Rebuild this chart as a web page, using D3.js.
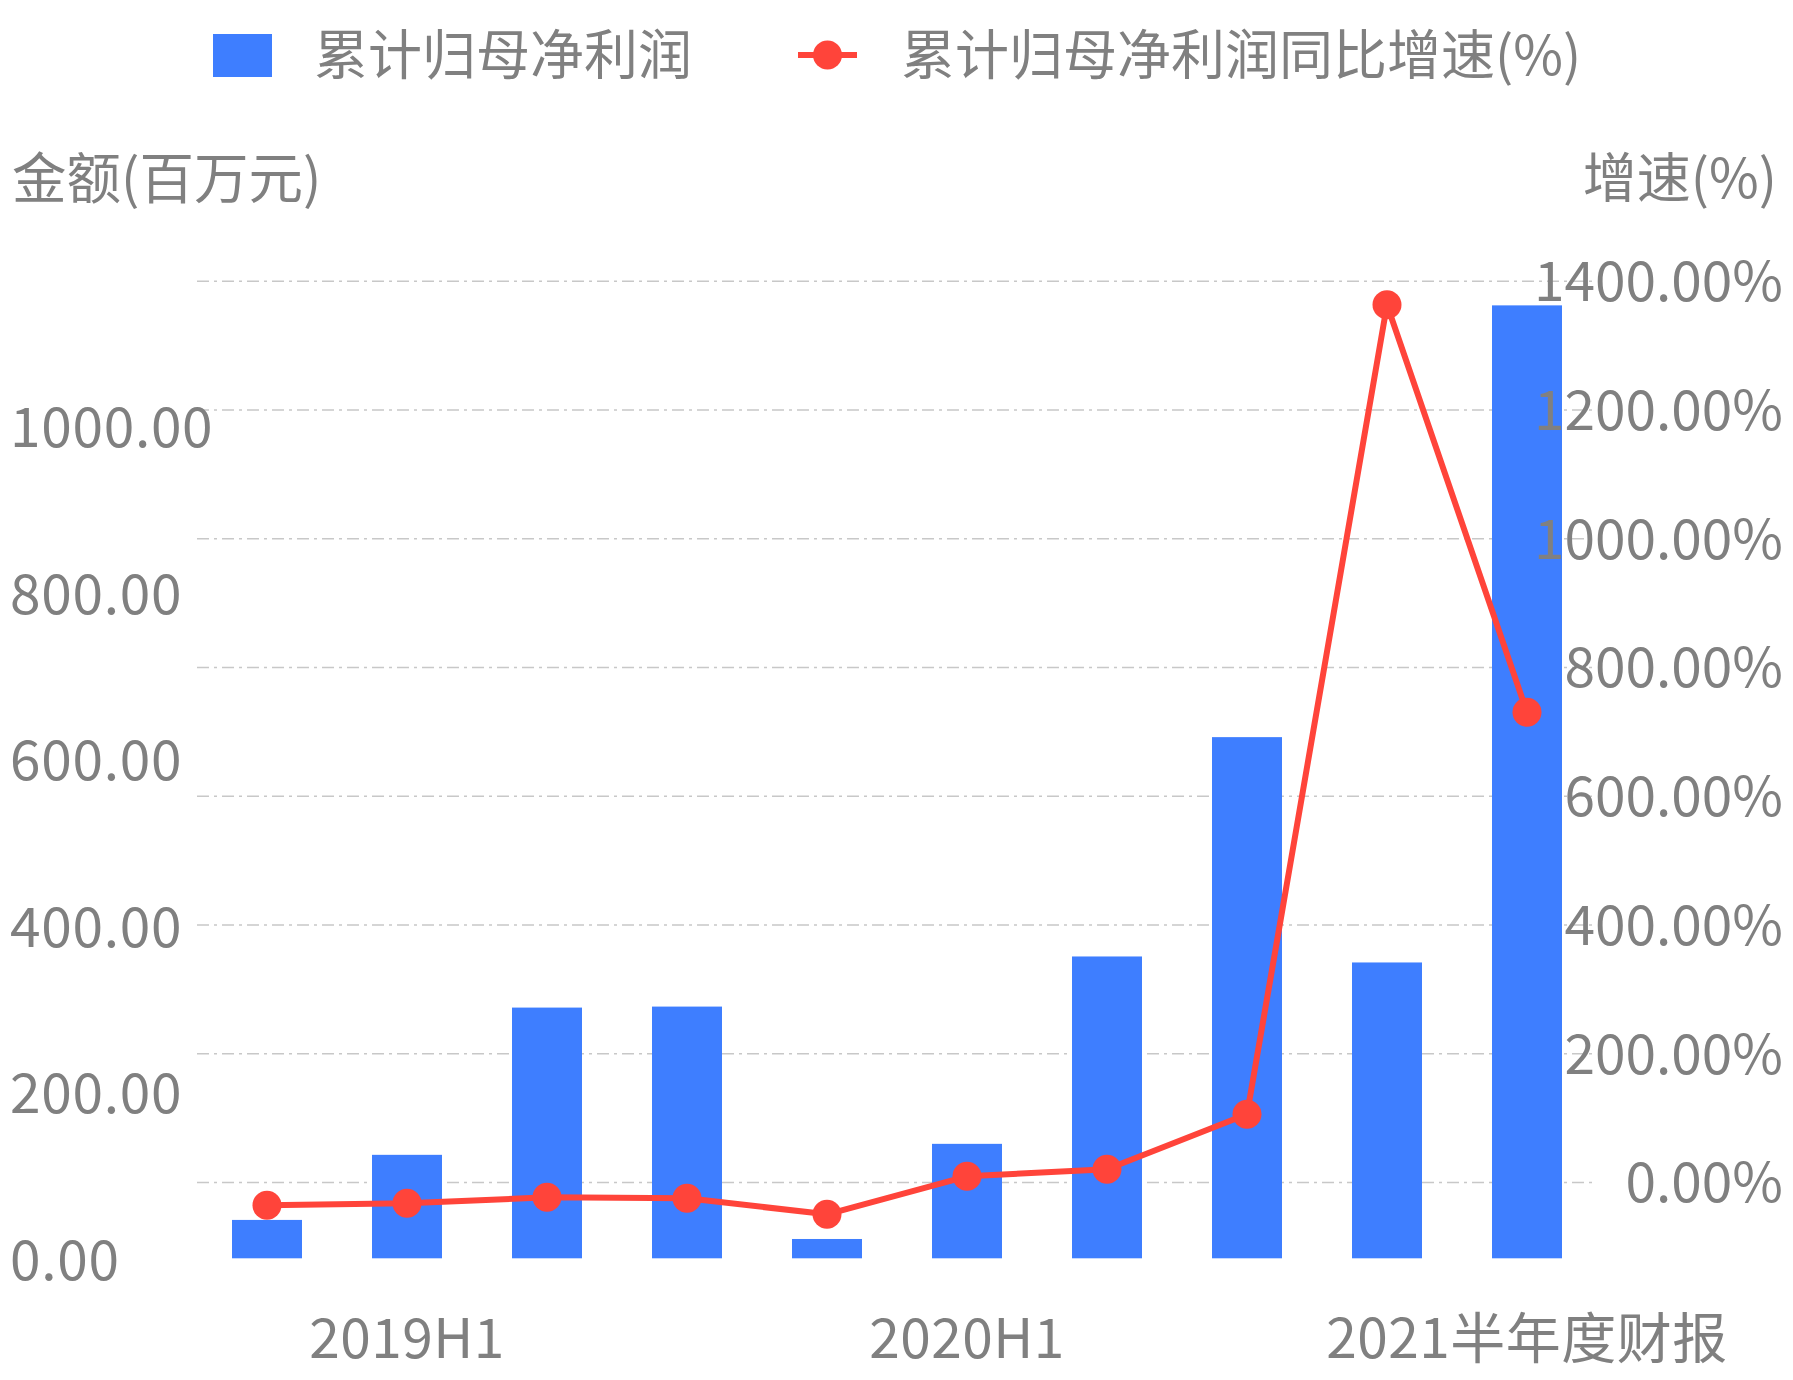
<!DOCTYPE html>
<html>
<head>
<meta charset="utf-8">
<script src="https://cdn.jsdelivr.net/npm/d3@7"></script>
<style>
  html, body { margin: 0; padding: 0; background: #ffffff; }
  svg { display: block; }
  text { font-family: "Noto Sans CJK SC", "Noto Sans", sans-serif; fill: #808080; }
</style>
</head>
<body>
<svg id="chart" width="1793" height="1380"></svg>
<script>
// ---- data ----
const categories = ["2019Q1", "2019H1", "2019Q3", "2019年报", "2020Q1", "2020H1", "2020Q3", "2020年报", "2021Q1", "2021半年度财报"];
const xTickLabels = ["2019H1", "2020H1", "2021半年度财报"];
const profit = [46.1, 124.3, 301.2, 302.4, 23.2, 137.5, 362.6, 626.1, 355.4, 1144.8];
const growth = [-36.2, -33.1, -23.8, -25.3, -50.2, 8.9, 19.7, 105.2, 1362.7, 729.6];
const leftTicks = [0, 200, 400, 600, 800, 1000];
const rightTicks = [0, 200, 400, 600, 800, 1000, 1200, 1400];
const seriesNames = ["累计归母净利润", "累计归母净利润同比增速(%)"];
const leftAxisName = "金额(百万元)";
const rightAxisName = "增速(%)";

// ---- style ----
const BLUE = "#3e7eff";
const RED = "#ff443a";
const GRAY = "#808080";
const GRID = "#c8c8c8";
const FS = 55;

const svg = d3.select("#chart");

const plotLeft = 197, plotRight = 1597;
const x = d3.scaleBand().domain(categories).range([plotLeft, plotRight]).paddingInner(0.5).paddingOuter(0.25);
const yL = d3.scaleLinear().domain([0, 1000]).range([1258.3, 425.9]);
const yR = d3.scaleLinear().domain([0, 1400]).range([1182, 280.7]);

// gridlines from right axis
const gridAxis = d3.axisRight(yR).tickValues(rightTicks).tickSize(plotRight - plotLeft).tickFormat("");
const gGrid = svg.append("g").attr("transform", `translate(${plotLeft},0)`).call(gridAxis);
gGrid.select(".domain").remove();
gGrid.selectAll("line").attr("stroke", GRID).attr("stroke-width", 1.6).attr("stroke-dasharray", "12,5,3,5");

// bars
svg.append("g").selectAll("rect").data(profit).join("rect")
  .attr("x", (d, i) => x(categories[i]))
  .attr("width", x.bandwidth())
  .attr("y", d => yL(d))
  .attr("height", d => yL(0) - yL(d))
  .attr("fill", BLUE);

// line
const cx = i => x(categories[i]) + x.bandwidth() / 2;
const line = d3.line().x((d, i) => cx(i)).y(d => yR(d));
svg.append("path").datum(growth).attr("d", line)
  .attr("fill", "none").attr("stroke", RED).attr("stroke-width", 6).attr("stroke-linejoin", "round");
svg.append("g").selectAll("circle").data(growth).join("circle")
  .attr("cx", (d, i) => cx(i)).attr("cy", d => yR(d)).attr("r", 14.5).attr("fill", RED);

// left axis labels
const leftAxis = d3.axisLeft(yL).tickValues(leftTicks).tickSize(0).tickFormat(d => d3.format(".2f")(d));
const gL = svg.append("g").attr("transform", "translate(10,0)").call(leftAxis);
gL.select(".domain").remove();
gL.selectAll("text").attr("text-anchor", "start").attr("x", 0).attr("dy", "0.38em")
  .attr("font-size", FS).attr("fill", GRAY).attr("letter-spacing", 0.7)
  .style("font-family", '"Noto Sans CJK SC", sans-serif');

// right axis labels
const rightAxis = d3.axisRight(yR).tickValues(rightTicks).tickSize(0).tickFormat(d => d3.format(".2f")(d) + "%");
const gR = svg.append("g").attr("transform", "translate(1783,0)").call(rightAxis);
gR.select(".domain").remove();
gR.selectAll("text").attr("text-anchor", "end").attr("x", 0).attr("dy", "0.36em")
  .attr("font-size", FS).attr("fill", GRAY).style("font-family", '"Noto Sans CJK SC", sans-serif');

// x axis labels
const tickCats = [categories[1], categories[5], categories[9]];
const xAxis = d3.axisBottom(x).tickValues(tickCats).tickSize(0).tickFormat((d, i) => xTickLabels[i]);
const gX = svg.append("g").attr("transform", "translate(0,1358)").call(xAxis);
gX.select(".domain").remove();
gX.selectAll("text").attr("y", 0).attr("dy", 0)
  .attr("font-size", FS).attr("fill", GRAY).attr("letter-spacing", 0.5)
  .style("font-family", '"Noto Sans CJK SC", sans-serif');

// axis names
svg.append("text").attr("x", 12).attr("y", 198).attr("font-size", 54.5).text(leftAxisName);
svg.append("text").attr("x", 1777).attr("y", 198).attr("text-anchor", "end").attr("font-size", 54).text(rightAxisName);

// legend
const lg = svg.append("g");
lg.append("rect").attr("x", 213).attr("y", 34).attr("width", 59).attr("height", 43).attr("fill", BLUE);
lg.append("text").attr("x", 314).attr("y", 75).attr("font-size", 54).text(seriesNames[0]);
lg.append("line").attr("x1", 798).attr("x2", 857).attr("y1", 55).attr("y2", 55).attr("stroke", RED).attr("stroke-width", 6);
lg.append("circle").attr("cx", 827.5).attr("cy", 55).attr("r", 14.5).attr("fill", RED);
lg.append("text").attr("x", 901).attr("y", 75).attr("font-size", 54).text(seriesNames[1]);
</script>
</body>
</html>
